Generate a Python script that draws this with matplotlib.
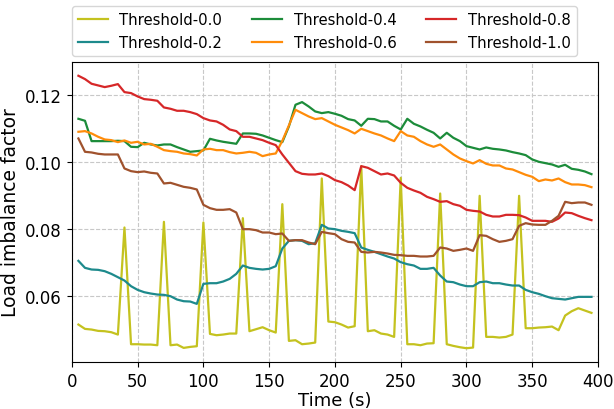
import numpy as np
import matplotlib
matplotlib.use("Agg")
import matplotlib.pyplot as plt

time = list(range(5, 400, 5))

thr_00 = [0.0513, 0.0500, 0.0498, 0.0494, 0.0493, 0.0490, 0.0483, 0.0804, 0.0454, 0.0454,
          0.0453, 0.0453, 0.0451, 0.0821, 0.0451, 0.0453, 0.0443, 0.0446, 0.0448, 0.0819,
          0.0485, 0.0481, 0.0483, 0.0486, 0.0486, 0.0832, 0.0493, 0.0499, 0.0505, 0.0496,
          0.0489, 0.0874, 0.0464, 0.0466, 0.0454, 0.0456, 0.0459, 0.0951, 0.0522, 0.0520,
          0.0513, 0.0504, 0.0508, 0.0988, 0.0493, 0.0496, 0.0486, 0.0483, 0.0476, 0.0953,
          0.0454, 0.0454, 0.0451, 0.0456, 0.0457, 0.0906, 0.0454, 0.0449, 0.0445, 0.0442,
          0.0444, 0.0899, 0.0476, 0.0476, 0.0474, 0.0476, 0.0483, 0.0899, 0.0502, 0.0502,
          0.0504, 0.0505, 0.0507, 0.0496, 0.0540, 0.0553, 0.0562, 0.0555, 0.0548]

thr_02 = [0.0704, 0.0683, 0.0678, 0.0677, 0.0673, 0.0665, 0.0655, 0.0645, 0.0628, 0.0617,
          0.0610, 0.0606, 0.0603, 0.0602, 0.0598, 0.0588, 0.0583, 0.0582, 0.0575, 0.0635,
          0.0637, 0.0637, 0.0642, 0.0650, 0.0665, 0.0690, 0.0683, 0.0680, 0.0678, 0.0680,
          0.0688, 0.0741, 0.0764, 0.0766, 0.0764, 0.0754, 0.0757, 0.0812, 0.0801, 0.0799,
          0.0794, 0.0791, 0.0787, 0.0744, 0.0737, 0.0731, 0.0724, 0.0717, 0.0711, 0.0700,
          0.0694, 0.0690, 0.0680, 0.0680, 0.0683, 0.0660, 0.0642, 0.0640, 0.0633, 0.0628,
          0.0628, 0.0640, 0.0642, 0.0637, 0.0637, 0.0633, 0.0630, 0.0630, 0.0617, 0.0610,
          0.0605, 0.0598, 0.0592, 0.0590, 0.0588, 0.0592, 0.0596, 0.0596, 0.0596]

thr_04 = [0.1130, 0.1124, 0.1063, 0.1063, 0.1063, 0.1063, 0.1064, 0.1063, 0.1046, 0.1045,
          0.1058, 0.1053, 0.1050, 0.1053, 0.1053, 0.1045, 0.1038, 0.1031, 0.1033, 0.1035,
          0.1070, 0.1065, 0.1061, 0.1058, 0.1055, 0.1086, 0.1086, 0.1085, 0.1080, 0.1073,
          0.1066, 0.1060, 0.1107, 0.1172, 0.1180, 0.1167, 0.1152, 0.1147, 0.1150, 0.1145,
          0.1139, 0.1129, 0.1125, 0.1109, 0.1130, 0.1129, 0.1122, 0.1122, 0.1109, 0.1098,
          0.1130, 0.1115, 0.1107, 0.1097, 0.1088, 0.1071, 0.1088, 0.1073, 0.1063, 0.1048,
          0.1043, 0.1038, 0.1044, 0.1040, 0.1038, 0.1035, 0.1030, 0.1026, 0.1021, 0.1008,
          0.1001, 0.0997, 0.0993, 0.0986, 0.0992, 0.0980, 0.0977, 0.0972, 0.0964]

thr_06 = [0.1091, 0.1093, 0.1086, 0.1076, 0.1068, 0.1066, 0.1060, 0.1065, 0.1058, 0.1061,
          0.1053, 0.1055, 0.1046, 0.1036, 0.1033, 0.1031, 0.1026, 0.1024, 0.1020, 0.1038,
          0.1040, 0.1036, 0.1036, 0.1030, 0.1026, 0.1028, 0.1031, 0.1028, 0.1018, 0.1023,
          0.1026, 0.1064, 0.1110, 0.1157, 0.1147, 0.1137, 0.1129, 0.1132, 0.1122, 0.1112,
          0.1104, 0.1096, 0.1086, 0.1100, 0.1093, 0.1086, 0.1080, 0.1071, 0.1063, 0.1093,
          0.1080, 0.1076, 0.1063, 0.1053, 0.1046, 0.1053, 0.1038, 0.1023, 0.1011, 0.1003,
          0.0996, 0.1006, 0.0995, 0.0990, 0.0990, 0.0981, 0.0978, 0.0970, 0.0962, 0.0956,
          0.0943, 0.0948, 0.0945, 0.0951, 0.0940, 0.0933, 0.0933, 0.0931, 0.0925]

thr_08 = [0.1259, 0.1249, 0.1235, 0.1230, 0.1225, 0.1229, 0.1234, 0.1210, 0.1207, 0.1197,
          0.1189, 0.1187, 0.1184, 0.1164, 0.1160, 0.1154, 0.1154, 0.1150, 0.1144, 0.1132,
          0.1125, 0.1122, 0.1112, 0.1098, 0.1093, 0.1076, 0.1076, 0.1071, 0.1066, 0.1058,
          0.1051, 0.1023, 0.0998, 0.0973, 0.0965, 0.0963, 0.0963, 0.0966, 0.0958, 0.0946,
          0.0940, 0.0930, 0.0916, 0.0988, 0.0983, 0.0973, 0.0963, 0.0966, 0.0960, 0.0938,
          0.0923, 0.0915, 0.0908, 0.0896, 0.0889, 0.0881, 0.0883, 0.0874, 0.0869, 0.0857,
          0.0854, 0.0852, 0.0842, 0.0837, 0.0837, 0.0842, 0.0842, 0.0841, 0.0834, 0.0824,
          0.0824, 0.0824, 0.0821, 0.0831, 0.0849, 0.0847, 0.0839, 0.0832, 0.0826]

thr_10 = [0.1071, 0.1031, 0.1029, 0.1025, 0.1023, 0.1023, 0.1023, 0.0981, 0.0973, 0.0970,
          0.0972, 0.0968, 0.0966, 0.0936, 0.0938, 0.0932, 0.0926, 0.0923, 0.0918, 0.0872,
          0.0862, 0.0857, 0.0857, 0.0859, 0.0849, 0.0799, 0.0799, 0.0796, 0.0789, 0.0789,
          0.0784, 0.0786, 0.0764, 0.0766, 0.0766, 0.0759, 0.0754, 0.0791, 0.0787, 0.0784,
          0.0769, 0.0761, 0.0759, 0.0731, 0.0729, 0.0731, 0.0729, 0.0726, 0.0722, 0.0721,
          0.0719, 0.0719, 0.0717, 0.0717, 0.0719, 0.0744, 0.0741, 0.0734, 0.0737, 0.0741,
          0.0734, 0.0781, 0.0779, 0.0769, 0.0761, 0.0764, 0.0769, 0.0809, 0.0817, 0.0813,
          0.0812, 0.0812, 0.0824, 0.0839, 0.0881, 0.0877, 0.0879, 0.0879, 0.0872]

labels = ["Threshold-0.0", "Threshold-0.2", "Threshold-0.4",
          "Threshold-0.6", "Threshold-0.8", "Threshold-1.0"]
series = [thr_00, thr_02, thr_04, thr_06, thr_08, thr_10]
colors = ["#c4c21f", "#1d8a8c", "#1c8c3a", "#ff8c0a", "#d62728", "#a0522d"]

fig = plt.figure(figsize=(6.14, 4.10), dpi=100)
ax = fig.add_axes([0.117, 0.115, 0.857, 0.731])

for ys, lab, c in zip(series, labels, colors):
    ax.plot(time, ys, color=c, linewidth=1.6, label=lab)

ax.set_xlim(0, 400)
ax.set_yticks([0.06, 0.08, 0.10, 0.12])
ax.grid(True, linestyle="--", color="#c8c8c8", linewidth=0.8)
ax.set_axisbelow(True)
ax.tick_params(labelsize=12)
ax.set_xlabel("Time (s)", fontsize=13, labelpad=1)
ax.set_ylabel("Load imbalance factor", fontsize=13.5, labelpad=4)

handles, labs = ax.get_legend_handles_labels()
fig.legend(handles, labs,
           loc="upper left", bbox_to_anchor=(0.117, 0.982), ncol=3,
           fontsize=10.7, labelspacing=0.55, borderaxespad=0, frameon=True)

fig.savefig("out.png", dpi=100)
